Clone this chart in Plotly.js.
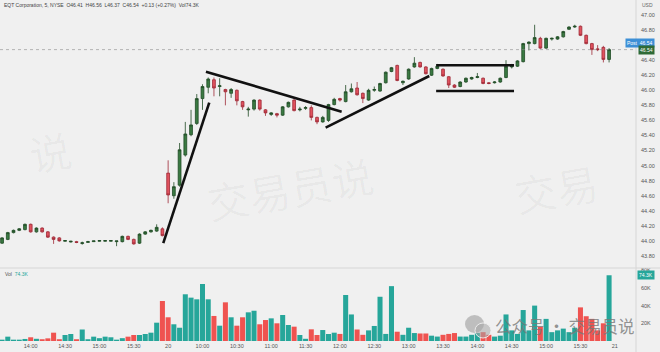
<!DOCTYPE html>
<html>
<head>
<meta charset="utf-8">
<script src="https://cdn.plot.ly/plotly-3.0.1.min.js"></script>
<style>
  html, body { margin: 0; padding: 0; background: #f0f0f0; }
  #chart { width: 660px; height: 352px; }
</style>
</head>
<body>
<div id="chart"></div>
<script>
// EQT Corporation, 5-minute bars: afternoon of the 19th and the full session of the 20th
const open = [
  43.97, 44.02, 44.11, 44.14, 44.15, 44.22, 44.12, 44.17, 44.12, 44.05,
  44.04, 43.995, 43.985, 43.99, 43.965, 43.98, 43.99, 43.995, 43.995, 43.995,
  43.99, 43.99, 44.06, 44.02, 43.97, 44.09, 44.12, 44.13, 44.16,
  44.90, 44.60, 44.74, 45.14, 45.41, 45.56, 45.89, 46.04, 46.14, 46.05,
  46.01, 45.96, 46.00, 45.85, 45.74, 45.75, 45.87, 45.74, 45.68, 45.69,
  45.67, 45.78, 45.87, 45.74, 45.76, 45.77, 45.64, 45.58, 45.60, 45.81,
  45.89, 45.85, 45.98, 46.03, 45.96, 45.87, 46.00, 45.99, 46.10, 46.25,
  46.33, 46.10, 46.15, 46.31, 46.37, 46.31, 46.20, 46.29, 46.28, 46.18,
  46.07, 46.05, 46.11, 46.15, 46.17, 46.16, 46.10, 46.10, 46.11, 46.17,
  46.31, 46.32, 46.38, 46.62, 46.62, 46.69, 46.56, 46.68, 46.68, 46.71,
  46.81, 46.84, 46.85, 46.73, 46.62, 46.55, 46.57, 46.41
];
const high = [
  44.05, 44.12, 44.15, 44.17, 44.23, 44.23, 44.18, 44.18, 44.13, 44.06,
  44.05, 44.01, 44.00, 44.00, 43.99, 44.00, 44.00, 44.01, 44.01, 44.01,
  44.00, 44.07, 44.07, 44.03, 44.10, 44.13, 44.15, 44.22, 44.18,
  45.07, 44.78, 45.30, 45.58, 45.74, 45.95, 46.08, 46.17, 46.17, 46.16,
  46.02, 46.03, 46.01, 45.86, 45.78, 45.88, 45.88, 45.75, 45.71, 45.70,
  45.79, 45.85, 45.88, 45.78, 45.79, 45.80, 45.65, 45.66, 45.82, 45.90,
  45.90, 46.07, 46.09, 46.11, 45.97, 46.02, 46.05, 46.10, 46.25, 46.31,
  46.34, 46.13, 46.29, 46.44, 46.38, 46.32, 46.30, 46.35, 46.29, 46.19,
  46.08, 46.12, 46.17, 46.18, 46.23, 46.17, 46.11, 46.12, 46.17, 46.40,
  46.35, 46.40, 46.63, 46.65, 46.87, 46.71, 46.70, 46.70, 46.72, 46.79,
  46.85, 46.87, 46.86, 46.74, 46.63, 46.60, 46.59, 46.56
];
const low = [
  43.96, 44.01, 44.10, 44.13, 44.14, 44.11, 44.11, 44.11, 44.04, 43.96,
  43.99, 43.99, 43.98, 43.97, 43.95, 43.98, 43.99, 43.99, 43.99, 43.99,
  43.93, 43.98, 44.01, 43.95, 43.96, 44.08, 44.11, 44.12, 44.06,
  44.50, 44.56, 44.72, 45.12, 45.39, 45.54, 45.74, 45.96, 45.92, 45.92,
  45.80, 45.90, 45.80, 45.74, 45.65, 45.73, 45.73, 45.66, 45.66, 45.64,
  45.66, 45.77, 45.72, 45.72, 45.74, 45.60, 45.55, 45.57, 45.58, 45.80,
  45.85, 45.84, 45.97, 45.93, 45.83, 45.86, 45.98, 45.98, 46.09, 46.24,
  46.12, 46.07, 46.14, 46.30, 46.30, 46.21, 46.19, 46.28, 46.18, 46.03,
  46.03, 46.04, 46.10, 46.14, 46.16, 46.08, 46.08, 46.09, 46.10, 46.16,
  46.29, 46.31, 46.37, 46.53, 46.61, 46.55, 46.55, 46.66, 46.67, 46.70,
  46.80, 46.83, 46.72, 46.61, 46.47, 46.52, 46.37, 46.37
];
const close = [
  44.04, 44.11, 44.14, 44.16, 44.22, 44.12, 44.17, 44.12, 44.05, 44.02,
  44.00, 44.005, 43.995, 43.98, 43.975, 43.99, 44.00, 44.005, 44.005, 44.005,
  44.00, 44.06, 44.02, 43.96, 44.09, 44.12, 44.14, 44.18, 44.07,
  44.61, 44.72, 45.21, 45.42, 45.54, 45.89, 46.05, 46.15, 46.03, 46.06,
  45.98, 46.01, 45.86, 45.78, 45.75, 45.87, 45.75, 45.70, 45.70, 45.67,
  45.78, 45.84, 45.73, 45.75, 45.77, 45.64, 45.58, 45.64, 45.81, 45.88,
  45.87, 45.98, 46.02, 45.94, 45.89, 46.00, 46.01, 46.09, 46.24, 46.30,
  46.13, 46.12, 46.28, 46.36, 46.31, 46.22, 46.29, 46.32, 46.19, 46.07,
  46.04, 46.11, 46.16, 46.17, 46.18, 46.09, 46.09, 46.11, 46.16, 46.32,
  46.33, 46.39, 46.62, 46.64, 46.70, 46.56, 46.69, 46.69, 46.71, 46.78,
  46.84, 46.85, 46.73, 46.62, 46.54, 46.54, 46.41, 46.54
];
// volume per bar, thousands of shares
const volumeK = [
  1.5, 4.9, 1.5, 1.5, 2.3, 4.2, 2.5, 2.0, 3.0, 9.4,
  2.0, 6.8, 7.9, 2.0, 13.0, 2.0, 4.9, 3.2, 4.9, 4.2,
  1.5, 3.2, 4.9, 6.8, 6.8, 7.9, 9.4, 20.7, 45.2,
  26.8, 18.9, 15.0, 52.8, 49.0, 47.1, 64.4, 47.1, 28.3, 17.3,
  43.7, 26.8, 17.3, 26.8, 32.4, 34.2, 18.9, 23.7, 25.6, 20.0,
  29.4, 18.1, 16.2, 6.8, 2.5, 13.2, 6.8, 12.4, 7.9, 9.4,
  8.0, 52.0, 30.0, 13.0, 7.0, 12.0, 17.0, 50.0, 8.0, 62.0,
  10.5, 7.0, 15.0, 9.0, 8.5, 8.5, 6.0, 5.0, 7.0, 8.0,
  9.0, 5.0, 5.0, 7.0, 9.0, 10.0, 7.0, 5.0, 6.0, 30.0,
  12.0, 8.0, 35.0, 12.0, 40.0, 16.0, 25.0, 10.0, 12.0, 14.0,
  10.0, 15.0, 38.0, 28.0, 25.0, 12.0, 20.0, 74.3
];

// bar timestamps: 13:35-15:55 on the 19th, 09:30-15:55 on the 20th
const sessions = [
  {day: '19', start: 13 * 60 + 35, end: 15 * 60 + 55},
  {day: '20', start: 9 * 60 + 30, end: 15 * 60 + 55}
];
const barTimes = [];
sessions.forEach(s => {
  for (let m = s.start; m <= s.end; m += 5) {
    const hh = String(Math.floor(m / 60)).padStart(2, '0');
    const mm = String(m % 60).padStart(2, '0');
    barTimes.push(s.day + ' ' + hh + ':' + mm);
  }
});
const nextSession = '21 09:30';

// time axis labels
const tickTimes = ['19 14:00', '19 14:30', '19 15:00', '19 15:30', '20 09:30', '20 10:00',
  '20 10:30', '20 11:00', '20 11:30', '20 12:00', '20 12:30', '20 13:00', '20 13:30',
  '20 14:00', '20 14:30', '20 15:00', '20 15:30', nextSession];
const tickLabels = ['14:00', '14:30', '15:00', '15:30', '20', '10:00', '10:30', '11:00',
  '11:30', '12:00', '12:30', '13:00', '13:30', '14:00', '14:30', '15:00', '15:30', '21'];

// price scale labels (46.60 sits under the post-market tag)
const priceTicks = [43.8, 44.0, 44.2, 44.4, 44.6, 44.8, 45.0, 45.2, 45.4, 45.6,
  45.8, 46.0, 46.2, 46.4, 46.8, 47.0];
const volumeTicks = [20, 40, 60, 80];

// hand-drawn trend lines and the range box: (bar time, fraction of a bar, price)
const trendLines = [
  {from: ['19 15:55', 0.15, 43.97], to: ['20 10:05', 0.18, 45.835]},
  {from: ['20 10:00', 0.6, 46.247], to: ['20 12:00', 0.3, 45.716]},
  {from: ['20 11:45', 0.5, 45.503], to: ['20 13:15', 0.6, 46.19]},
  {from: ['20 13:20', 0.8, 46.332], to: ['20 14:30', 0.4, 46.332]},
  {from: ['20 13:20', 0.8, 45.99], to: ['20 14:30', 0.4, 45.99]}
];

const idx = t => t === nextSession ? barTimes.length : barTimes.indexOf(t);
const xs = barTimes.map((t, i) => i);
const last = close.length - 1;
const up = close.map((c, i) => c >= open[i]);

const TEAL = '#26a69a', RED = '#ef5350';
const FONT = 'Liberation Sans, Arial, sans-serif';
const CJK = 'Noto Sans CJK SC, sans-serif';

const price = {
  type: 'candlestick', x: xs, open: open, high: high, low: low, close: close,
  xaxis: 'x', yaxis: 'y', hoverinfo: 'skip', whiskerwidth: 0,
  increasing: {line: {color: '#1f4a25', width: 0.8}, fillcolor: '#3a7a42'},
  decreasing: {line: {color: '#9e2a36', width: 0.8}, fillcolor: '#e0525e'}
};
const vol = {
  type: 'bar', x: xs, y: volumeK, xaxis: 'x', yaxis: 'y2', hoverinfo: 'skip',
  marker: {color: up.map(u => u ? TEAL : RED), line: {width: 0}}
};

// plot box in pixels: 636 wide, 341 tall; price pane above 268 px, volume pane below
const W = 636, H = 341, split = 73 / 341;
const px = x => x / W;
const py = y => (H - y) / H;

const shapes = trendLines.map(l => ({
  type: 'line', xref: 'x', yref: 'y',
  x0: idx(l.from[0]) + l.from[1], y0: l.from[2],
  x1: idx(l.to[0]) + l.to[1], y1: l.to[2],
  line: {color: '#111', width: 2.6}
}));
shapes.push(
  // last price line
  {type: 'line', xref: 'paper', yref: 'y', x0: 0, x1: 1, y0: close[last], y1: close[last],
   line: {color: 'rgba(140,140,140,0.6)', width: 1, dash: 'dot'}},
  // pane separator and price scale border
  {type: 'line', xref: 'paper', yref: 'paper', x0: 0, x1: 1.04, y0: split, y1: split,
   line: {color: '#d6d6d6', width: 1}},
  {type: 'line', xref: 'paper', yref: 'paper', x0: 1, x1: 1, y0: -0.04, y1: 1,
   line: {color: '#d6d6d6', width: 1}},
  // chat bubble logo
  {type: 'circle', xref: 'paper', yref: 'paper', x0: px(465), x1: px(484), y0: py(333), y1: py(315),
   fillcolor: 'rgba(150,150,150,0.55)', line: {width: 0}},
  {type: 'circle', xref: 'paper', yref: 'paper', x0: px(475), x1: px(491), y0: py(338), y1: py(323),
   fillcolor: 'rgba(165,165,165,0.55)', line: {color: 'rgba(240,240,240,0.9)', width: 1}}
);

const fmt = v => v.toFixed(2);
const MARK = 'rgba(0,0,0,0.035)';
const annotations = [
  {xref: 'paper', yref: 'paper', x: px(2), y: py(5), xanchor: 'left', yanchor: 'middle', showarrow: false,
   text: 'EQT Corporation, 5, NYSE  O' + fmt(open[last]) + '  H' + fmt(high[last]) + '  L' + fmt(low[last]) +
         '  C' + fmt(close[last]) + '  +0.13 (+0.27%)  Vol' + volumeK[last].toFixed(1) + 'K',
   font: {family: FONT, size: 5, color: '#444'}},
  {xref: 'paper', yref: 'paper', x: px(3), y: py(274), xanchor: 'left', yanchor: 'middle', showarrow: false,
   text: 'Vol  <span style="color:' + TEAL + '">' + volumeK[last].toFixed(1) + 'K</span>',
   font: {family: FONT, size: 5, color: '#555'}},
  {xref: 'paper', yref: 'paper', x: px(647), y: py(5), xanchor: 'center', yanchor: 'middle', showarrow: false,
   text: 'USD', font: {family: FONT, size: 5, color: '#666'}},
  {xref: 'paper', yref: 'paper', x: px(625), y: py(43), xanchor: 'left', yanchor: 'middle', showarrow: false,
   text: 'Post  ' + fmt(close[last]), bgcolor: '#3d8fd6', borderpad: 1,
   font: {family: FONT, size: 5, color: '#fff'}},
  {xref: 'paper', yref: 'y', x: px(638), y: close[last], xanchor: 'left', yanchor: 'middle', showarrow: false,
   text: fmt(close[last]), bgcolor: '#2f6a36', borderpad: 1,
   font: {family: FONT, size: 5, color: '#fff'}},
  {xref: 'paper', yref: 'y2', x: px(637), y: volumeK[last], xanchor: 'left', yanchor: 'middle', showarrow: false,
   text: volumeK[last].toFixed(1) + 'K', bgcolor: TEAL, borderpad: 1,
   font: {family: FONT, size: 5, color: '#fff'}},
  // watermark
  {xref: 'paper', yref: 'paper', x: px(290), y: py(188), showarrow: false, text: '交易员说', textangle: -10,
   font: {family: CJK, size: 42, color: MARK}},
  {xref: 'paper', yref: 'paper', x: px(605), y: py(188), showarrow: false, text: '交易', textangle: -10,
   font: {family: CJK, size: 42, color: MARK}},
  {xref: 'paper', yref: 'paper', x: px(22), y: py(150), showarrow: false, text: '说', textangle: -10,
   font: {family: CJK, size: 42, color: MARK}},
  {xref: 'paper', yref: 'paper', x: px(170), y: py(22), showarrow: false, text: '交易员说', textangle: -10,
   font: {family: CJK, size: 36, color: 'rgba(0,0,0,0.025)'}},
  // account footer
  {xref: 'paper', yref: 'paper', x: px(493), y: py(326), xanchor: 'left', yanchor: 'middle', showarrow: false,
   text: '公众号 · 交易员说', font: {family: CJK, size: 16.5, color: 'rgba(120,120,120,0.8)'}}
];

const layout = {
  width: 660, height: 352,
  margin: {l: 0, r: 24, t: 0, b: 11, pad: 0},
  paper_bgcolor: '#f0f0f0', plot_bgcolor: '#f0f0f0',
  showlegend: false, bargap: 0.12, dragmode: false,
  xaxis: {
    anchor: 'y2', range: [-0.36, 110.7], rangeslider: {visible: false},
    tickmode: 'array', tickvals: tickTimes.map(idx), ticktext: tickLabels,
    showgrid: false, zeroline: false, showline: false, ticks: '',
    tickfont: {family: FONT, size: 5.5, color: '#555'}
  },
  yaxis: {
    domain: [split, 1], range: [43.64, 47.199], side: 'right',
    tickmode: 'array', tickvals: priceTicks, ticktext: priceTicks.map(fmt),
    showgrid: false, zeroline: false, showline: false, ticks: '', ticklabelstandoff: 4,
    tickfont: {family: FONT, size: 5.5, color: '#555'}
  },
  yaxis2: {
    domain: [0, split], range: [0, 82.5], side: 'right',
    tickmode: 'array', tickvals: volumeTicks, ticktext: volumeTicks.map(v => v + 'K'),
    showgrid: false, zeroline: false, showline: false, ticks: '', ticklabelstandoff: 4,
    tickfont: {family: FONT, size: 5.5, color: '#555'}
  },
  shapes: shapes,
  annotations: annotations
};

Plotly.newPlot('chart', [vol, price], layout, {staticPlot: true, displayModeBar: false});
</script>
</body>
</html>
